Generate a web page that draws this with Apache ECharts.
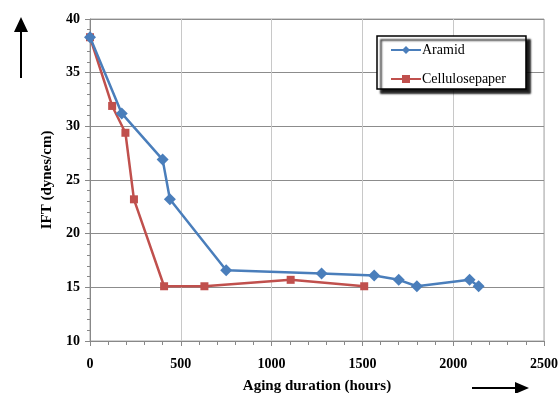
<!DOCTYPE html>
<html>
<head>
<meta charset="utf-8">
<script src="https://cdn.jsdelivr.net/npm/echarts@6/dist/echarts.min.js"></script>
<style>
  html, body { margin: 0; padding: 0; background: #fff; }
  #chart { width: 559px; height: 393px; }
</style>
</head>
<body>
<div id="chart"></div>
<script>
// Interfacial tension vs. ageing time for two insulation papers
const aramidHours = [0, 175, 400, 440, 750, 1275, 1565, 1700, 1800, 2090, 2140];
const aramidIFT   = [38.3, 31.2, 26.9, 23.2, 16.6, 16.3, 16.1, 15.7, 15.1, 15.7, 15.1];
const celluloseHours = [0, 122, 195, 242, 408, 630, 1105, 1510];
const celluloseIFT   = [38.3, 31.9, 29.4, 23.2, 15.1, 15.1, 15.7, 15.1];
const seriesNames = ['Aramid', 'Cellulosepaper'];
const xTitle = 'Aging duration (hours)';
const yTitle = 'IFT (dynes/cm)';

const pairs = (xs, ys) => xs.map((x, i) => [x, ys[i]]);
const serif = '"Liberation Serif", "DejaVu Serif", serif';

const chart = echarts.init(document.getElementById('chart'), null, { renderer: 'canvas' });

const tickLabel = { color: '#000', fontFamily: serif, fontWeight: 'bold', fontSize: 14 };
const titleText = { color: '#000', fontFamily: serif, fontWeight: 'bold', fontSize: 15 };

chart.setOption({
  animation: false,
  backgroundColor: '#fff',
  grid: {
    left: 90, right: 15, top: 19, bottom: 52,
    outerBoundsMode: 'none',
    containLabel: false,
    show: true, borderColor: '#a6a6a6', borderWidth: 1
  },
  xAxis: {
    type: 'value', min: 0, max: 2500, interval: 500,
    name: xTitle, nameLocation: 'middle', nameGap: 38,
    nameTextStyle: titleText,
    axisLine: { show: true, lineStyle: { color: '#888', width: 1 } },
    axisTick: { show: true, length: 5, lineStyle: { color: '#888' } },
    minorTick: { show: true, splitNumber: 5, length: 4, lineStyle: { color: '#888' } },
    axisLabel: Object.assign({ margin: 16, formatter: v => String(v) }, tickLabel),
    splitLine: { show: true, lineStyle: { color: '#c8c8c8', width: 1 } }
  },
  yAxis: {
    type: 'value', min: 10, max: 40, interval: 5,
    name: yTitle, nameLocation: 'middle', nameGap: 28, nameRotate: 90,
    nameTextStyle: titleText,
    axisLine: { show: true, lineStyle: { color: '#888', width: 1 } },
    axisTick: { show: true, length: 5, lineStyle: { color: '#888' } },
    minorTick: { show: true, splitNumber: 5, length: 3, lineStyle: { color: '#888' } },
    axisLabel: Object.assign({ margin: 10, formatter: v => String(v) }, tickLabel),
    splitLine: { show: true, lineStyle: { color: '#8c8c8c', width: 1 } }
  },
  legend: {
    orient: 'vertical',
    left: 377, top: 36,
    padding: [7, 20, 3, 13],
    itemGap: 15,
    itemWidth: 30, itemHeight: 10,
    backgroundColor: '#fff',
    borderColor: '#000', borderWidth: 1.5,
    shadowColor: 'rgba(0,0,0,0.9)', shadowOffsetX: 4, shadowOffsetY: 4, shadowBlur: 2,
    textStyle: { color: '#000', fontFamily: serif, fontSize: 14, padding: [0, 0, 0, -4] },
    data: seriesNames
  },
  series: [
    {
      name: seriesNames[0], type: 'line',
      data: pairs(aramidHours, aramidIFT),
      symbol: 'diamond', symbolSize: 12,
      lineStyle: { color: '#4a7ebb', width: 2.5 },
      itemStyle: { color: '#4a7ebb' },
      z: 3
    },
    {
      name: seriesNames[1], type: 'line',
      data: pairs(celluloseHours, celluloseIFT),
      symbol: 'rect', symbolSize: 8,
      lineStyle: { color: '#c0504d', width: 2.5 },
      itemStyle: { color: '#c0504d' },
      z: 2
    }
  ],
  graphic: [
    // upward arrow beside the value axis
    { type: 'line', shape: { x1: 21, y1: 30, x2: 21, y2: 78 }, style: { stroke: '#000', lineWidth: 2 } },
    { type: 'polygon', shape: { points: [[21, 17], [14, 32], [28, 32]] }, style: { fill: '#000' } },
    // rightward arrow under the time axis
    { type: 'line', shape: { x1: 472, y1: 388, x2: 518, y2: 388 }, style: { stroke: '#000', lineWidth: 2 } },
    { type: 'polygon', shape: { points: [[529, 388], [515, 382], [515, 394]] }, style: { fill: '#000' } }
  ]
});
</script>
</body>
</html>
